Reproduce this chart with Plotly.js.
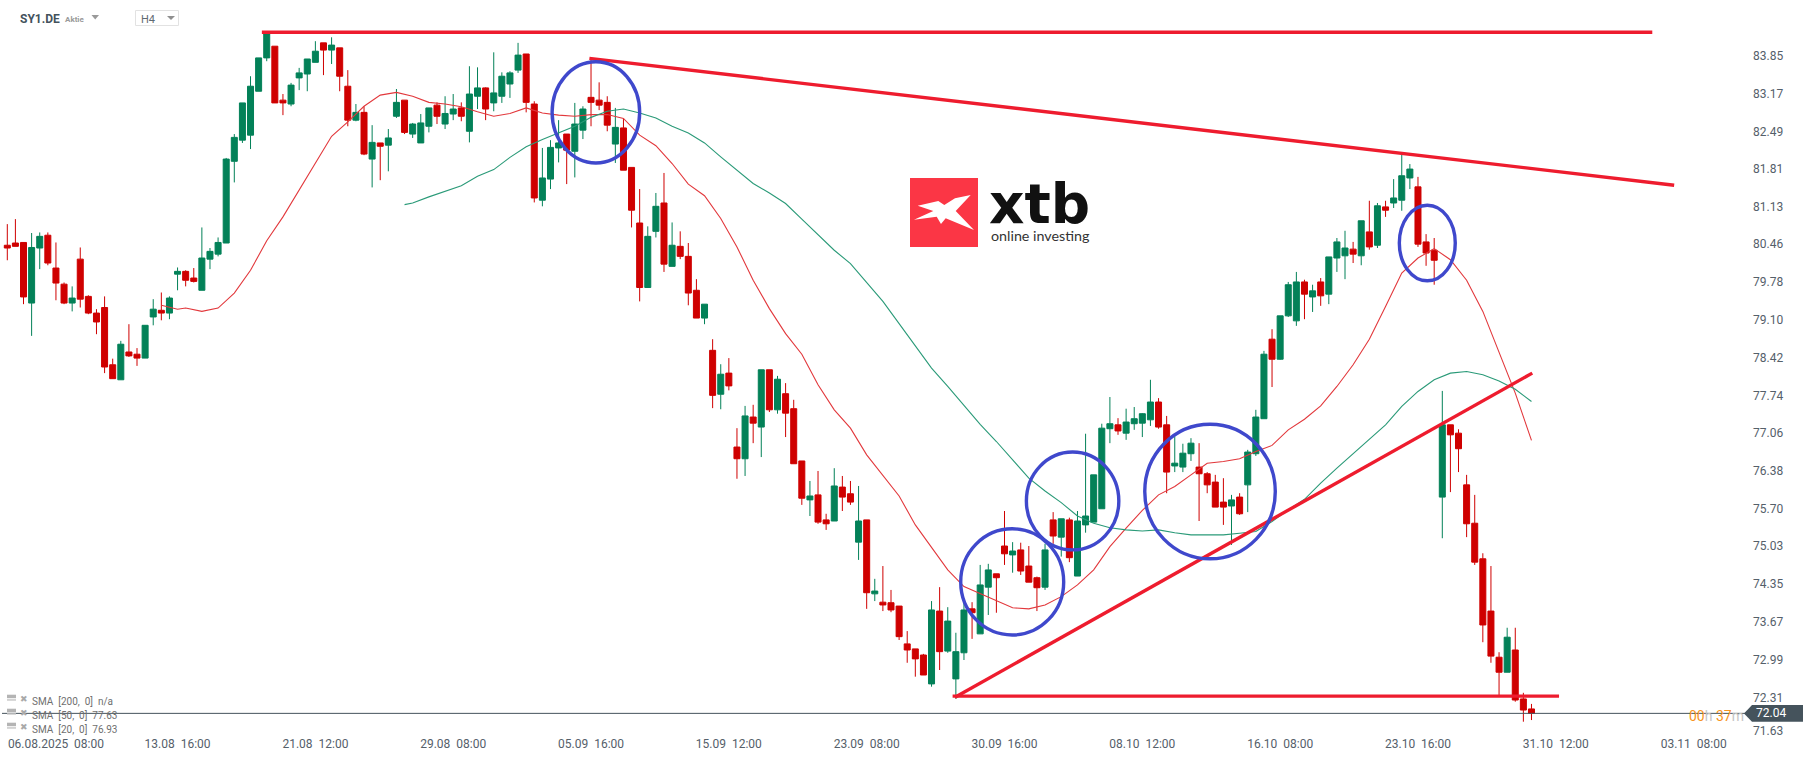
<!DOCTYPE html>
<html>
<head>
<meta charset="utf-8">
<script src="https://cdn.plot.ly/plotly-3.0.1.min.js"></script>
<style>
  html, body { margin: 0; padding: 0; background: #fff; }
</style>
</head>
<body>
<div id="chart" style="width:1815px;height:761px"></div>
<script>
// H4 candles
var open_prices = [
  80.46,80.50,80.51,79.42,80.41,80.64,80.05,79.76,79.42,80.21,
  79.54,79.24,79.34,78.31,78.04,78.54,78.50,78.43,79.17,79.29,
  79.24,79.94,79.99,79.87,79.65,80.21,80.30,80.50,81.97,82.35,
  82.44,83.23,83.83,84.04,83.07,83.00,83.47,83.54,83.75,84.10,
  83.97,84.01,83.32,82.71,82.85,82.01,82.30,82.26,82.78,83.07,
  82.46,82.30,82.60,82.98,82.64,82.82,82.93,82.51,83.14,83.29,
  83.02,83.14,83.36,83.61,83.90,83.00,81.27,81.65,82.21,82.46,
  82.15,82.53,83.12,83.07,83.03,82.28,82.57,81.86,80.86,79.70,
  80.71,81.22,80.08,80.44,80.26,79.65,79.15,78.57,77.78,78.16,
  76.83,76.62,77.37,77.19,78.22,77.50,77.79,77.52,76.58,75.88,
  75.97,75.52,75.50,76.11,75.99,75.12,75.52,74.19,74.04,74.03,
  73.97,73.29,73.20,73.09,72.57,73.88,73.16,72.66,73.13,73.92,
  73.47,74.31,74.55,75.05,74.89,74.98,74.69,74.48,74.31,75.52,
  75.21,75.52,74.51,75.43,75.48,75.72,77.16,77.23,77.08,77.25,
  77.26,77.32,77.64,77.23,76.49,76.47,76.71,76.47,76.35,76.20,
  75.84,75.77,75.93,76.15,76.71,77.34,78.77,78.41,79.19,79.10,
  79.80,79.53,79.80,79.58,80.23,80.27,80.39,80.27,80.70,80.46,
  81.15,81.22,81.27,81.67,81.51,80.52,80.37,75.93,77.23,77.08,
  76.15,75.46,74.82,73.88,73.05,72.78,73.18,72.30,72.12
];
var high_prices = [
  80.84,80.93,80.51,80.68,80.69,80.69,80.51,79.79,79.72,80.42,
  79.56,79.31,79.54,78.42,78.74,79.04,78.61,79.02,79.49,79.61,
  79.54,80.06,80.01,80.05,80.78,80.41,80.60,82.03,82.46,83.02,
  83.50,83.83,84.29,84.04,83.18,83.38,83.65,83.81,84.13,84.10,
  84.20,84.01,83.61,83.00,82.96,82.62,82.30,82.55,83.27,83.07,
  82.66,82.82,82.93,83.03,83.14,83.18,83.03,83.68,83.66,83.30,
  83.93,83.57,83.59,84.10,83.90,83.05,82.21,82.35,82.71,82.46,
  83.02,82.96,83.81,83.39,83.14,82.93,82.73,81.86,81.47,80.80,
  81.40,81.76,80.87,80.71,80.50,79.85,79.40,78.77,78.32,78.43,
  77.17,77.57,77.59,78.22,78.22,78.11,77.98,77.68,76.58,76.22,
  76.40,75.63,76.45,76.31,76.22,76.13,75.52,74.46,74.69,74.26,
  73.97,73.52,73.20,73.11,74.06,74.31,73.95,73.49,74.06,74.04,
  74.71,74.73,74.55,75.68,75.12,75.11,75.05,74.50,75.09,75.66,
  75.54,75.56,75.68,77.07,76.33,77.25,77.73,77.35,77.52,77.55,
  77.44,78.04,77.71,77.39,77.03,76.89,76.99,76.90,76.38,76.33,
  76.27,75.97,76.00,76.78,77.50,78.56,78.95,79.19,79.80,79.98,
  79.84,79.75,79.87,80.25,80.59,80.72,80.52,80.90,81.26,81.22,
  81.26,81.65,82.10,81.92,81.69,80.66,80.59,77.84,77.23,77.15,
  76.33,75.97,74.92,74.69,73.14,73.58,73.58,72.41,72.21
];
var low_prices = [
  80.19,80.44,79.40,78.83,80.03,80.10,79.47,79.40,79.27,79.34,
  79.22,78.86,78.16,78.06,78.04,78.45,78.29,78.43,79.02,79.11,
  79.13,79.65,79.72,79.79,79.65,80.03,80.26,80.50,81.59,82.30,
  82.19,83.23,83.77,83.02,82.80,82.96,83.25,83.23,83.75,83.52,
  83.72,83.23,82.60,82.69,82.08,81.50,81.63,81.79,82.75,82.46,
  82.39,82.30,82.49,82.64,82.55,82.71,82.69,82.31,82.91,82.71,
  82.87,83.02,83.11,83.56,82.85,81.23,81.16,81.47,81.95,81.56,
  81.68,82.37,82.60,82.89,82.51,81.94,81.81,80.78,79.45,79.70,
  80.60,79.98,80.08,80.21,79.38,79.15,79.04,77.53,77.51,77.85,
  76.26,76.31,76.90,76.65,77.46,77.43,77.01,76.53,75.79,75.59,
  75.45,75.34,75.50,75.68,75.79,74.80,73.92,74.06,73.88,73.86,
  73.36,72.95,72.70,72.73,72.52,72.82,73.13,72.30,73.00,73.38,
  73.47,73.81,73.85,74.71,74.57,74.53,74.40,73.88,74.26,75.09,
  74.86,74.76,74.51,75.29,75.48,75.72,76.90,77.05,76.96,77.14,
  77.01,77.21,77.16,76.00,76.38,76.38,76.58,75.50,76.00,75.75,
  75.43,75.07,75.61,75.66,76.67,77.34,77.91,78.40,79.17,79.01,
  79.13,79.26,79.37,79.40,79.98,79.85,80.14,80.10,80.38,80.41,
  80.97,81.13,81.08,81.47,80.43,80.09,79.75,75.19,76.02,76.38,
  75.21,74.71,73.32,72.95,72.35,72.78,72.25,71.89,71.92
];
var close_prices = [
  80.41,80.44,79.53,80.42,80.62,80.14,79.78,79.42,79.51,79.49,
  79.24,79.08,78.27,78.06,78.68,78.47,78.43,79.02,79.31,79.24,
  79.51,79.99,79.83,79.81,80.23,80.35,80.51,82.01,82.40,83.02,
  83.32,83.83,84.27,83.02,83.02,83.34,83.56,83.81,83.95,83.97,
  84.06,83.50,82.71,82.85,82.10,82.31,82.24,82.39,83.03,82.49,
  82.64,82.66,82.93,82.78,82.83,82.91,82.78,83.18,83.29,82.91,
  83.20,83.50,83.56,83.88,83.03,81.31,81.67,82.22,82.30,82.17,
  82.64,82.91,83.03,82.98,82.62,82.58,81.81,81.09,79.70,80.62,
  81.16,80.12,80.46,80.26,79.60,79.15,79.40,77.76,78.14,77.93,
  76.62,77.39,77.26,78.22,77.50,78.05,77.44,76.53,75.91,75.95,
  75.48,75.45,76.13,75.93,75.84,75.50,74.21,74.24,73.99,73.90,
  73.42,73.18,73.02,72.73,73.90,73.15,73.70,73.15,73.90,73.85,
  74.35,74.62,74.48,74.91,74.96,74.60,74.40,74.30,74.98,75.23,
  75.54,74.84,75.50,75.59,76.33,77.17,77.25,77.12,77.28,77.34,
  77.43,77.64,77.19,76.38,76.54,76.72,76.90,76.35,76.15,75.75,
  75.75,75.88,75.63,76.74,77.37,78.50,78.41,79.19,79.75,79.80,
  79.58,79.64,79.55,80.25,80.52,80.41,80.30,80.90,80.43,81.17,
  81.09,81.31,81.71,81.83,80.48,80.32,80.19,77.23,77.05,76.80,
  75.45,74.76,73.63,73.07,72.78,73.41,72.28,72.10,72.04
];

// moving averages, bar number and value
var sma20_bars = [19,21,22,24,26,28,30,32,34,36,38,40,42,44,46,48,50,52,54,56,58,60,62,64,66,68,70,72,74,76,78,80,82,84,86,88,90,92,94,96,98,100,102,104,106,108,110,112,114,116,118,120,122,124,126,128,130,132,134,136,138,140,142,144,146,148,150,152,154,156,158,160,162,164,166,168,170,172,174,176,178,180,182,184,186,188];
var sma20_values = [79.38,79.31,79.33,79.27,79.33,79.60,80.01,80.54,80.97,81.45,81.93,82.42,82.68,82.96,83.16,83.21,83.14,83.03,83.00,82.95,82.86,82.78,82.83,82.93,82.84,82.80,82.78,82.81,82.81,82.74,82.44,82.25,81.93,81.56,81.35,80.94,80.43,79.83,79.32,78.87,78.50,77.95,77.50,77.17,76.69,76.31,75.95,75.43,75.03,74.62,74.32,74.19,74.07,73.94,73.92,73.99,74.14,74.35,74.62,75.04,75.37,75.69,75.97,76.12,76.33,76.54,76.57,76.62,76.75,76.86,77.14,77.33,77.57,77.92,78.31,78.77,79.36,79.96,80.23,80.40,80.20,79.83,79.27,78.52,77.80,76.95];
var sma50_bars = [49,50,52,54,56,58,60,62,64,66,68,70,72,74,76,78,80,82,84,86,88,90,92,94,96,98,100,102,104,106,108,110,112,114,116,118,120,122,124,126,128,130,132,134,136,138,140,142,144,146,148,150,152,154,156,158,160,162,164,166,168,170,172,174,176,178,180,182,184,186,188];
var sma50_values = [81.19,81.22,81.33,81.43,81.53,81.70,81.82,82.04,82.23,82.36,82.48,82.60,82.76,82.87,82.91,82.84,82.75,82.60,82.48,82.30,82.05,81.81,81.57,81.40,81.21,80.93,80.65,80.37,80.13,79.80,79.45,79.05,78.64,78.25,77.92,77.57,77.24,76.93,76.60,76.27,76.04,75.83,75.59,75.46,75.38,75.34,75.32,75.34,75.29,75.25,75.25,75.25,75.28,75.31,75.49,75.70,75.89,76.18,76.45,76.71,76.97,77.23,77.56,77.83,78.04,78.16,78.19,78.13,78.02,77.87,77.65];

// axis labels
var price_ticks = [83.85,83.17,82.49,81.81,81.13,80.46,79.78,79.10,78.42,77.74,77.06,76.38,75.70,75.03,74.35,73.67,72.99,72.31,71.71];
var price_labels = ['83.85','83.17','82.49','81.81','81.13','80.46','79.78','79.10','78.42','77.74','77.06','76.38','75.70','75.03','74.35','73.67','72.99','72.31','71.63'];
var time_ticks = [6,21,38,55,72,89,106,123,140,157,174,191,208];
var time_labels = ['06.08.2025','13.08','21.08','29.08','05.09','15.09','23.09','30.09','08.10','16.10','23.10','31.10','03.11'];
var time_hours = ['08:00','16:00','12:00','08:00','16:00','12:00','08:00','16:00','12:00','08:00','16:00','12:00','08:00'];
var last_price = 72.04;

// drawn analysis on the chart: [bar0, price0, bar1, price1]
var trend_lines = [
  [31.4, 84.29, 202.9, 84.29],
  [71.8, 83.82, 205.6, 81.54],
  [116.9, 72.33, 188.1, 78.16],
  [116.6, 72.35, 191.4, 72.35]
];
var circles = [
  [67.2, 83.76, 78.0, 81.94],
  [117.6, 75.36, 130.3, 73.45],
  [125.7, 76.74, 137.1, 74.98],
  [140.3, 77.24, 156.4, 74.82],
  [171.7, 81.18, 178.6, 79.82]
];
var sma_legend = ['SMA\u00a0 [200,\u00a0 0]\u00a0 n/a', 'SMA\u00a0 [50,\u00a0 0]\u00a0 77.63', 'SMA\u00a0 [20,\u00a0 0]\u00a0 76.93'];

var W = 1752, H = 733;   // plot area in px
function px(x) { return x / W; }
function py(y) { return 1 - y / H; }

var shapes = [];
var annotations = [];

function note(x, y, text, size, color, family, anchor) {
  annotations.push({
    xref: 'paper', yref: 'paper', x: px(x), y: py(y), text: text, showarrow: false,
    xanchor: anchor || 'left', yanchor: 'middle', borderpad: 0,
    font: { size: size, color: color, family: family || 'Roboto' }
  });
}
function poly(points, color) {
  var path = points.map(function(p, i) {
    return (i === 0 ? 'M' : 'L') + px(p[0]).toFixed(5) + ',' + py(p[1]).toFixed(5);
  }).join(' ') + ' Z';
  shapes.push({ type: 'path', xref: 'paper', yref: 'paper', path: path, fillcolor: color, line: { width: 0 } });
}

trend_lines.forEach(function(t) {
  shapes.push({ type: 'line', xref: 'x', yref: 'y', x0: t[0], y0: t[1], x1: t[2], y1: t[3],
    line: { color: '#ee1c2e', width: 3.4 } });
});
circles.forEach(function(c) {
  shapes.push({ type: 'circle', xref: 'x', yref: 'y', x0: c[0], y0: c[1], x1: c[2], y1: c[3],
    line: { color: '#3f48cc', width: 3.4 } });
});

// last price line and tag
shapes.push({ type: 'line', xref: 'paper', yref: 'y', x0: px(2), x1: px(1746), y0: last_price, y1: last_price,
  line: { color: '#45535c', width: 1 } });
poly([[1744, 713.4], [1752, 705], [1803, 705], [1803, 721.7], [1752, 721.7]], '#45535c');
note(1755, 713.4, '72.04', 12, '#ffffff');
note(1688, 716, '<span style="color:#f7941d">00</span><span style="color:#c4c4c4">h</span> <span style="color:#f7941d">37</span><span style="color:#c4c4c4">m</span>', 14, '#f7941d');

// header
note(19, 18.7, '<b>SY1.DE</b>', 12, '#44525c');
note(64, 19, '<b>Aktie</b>', 8, '#9a9a9a');
poly([[91.5, 15], [99, 15], [95.2, 19.5]], '#9a9a9a');
shapes.push({ type: 'rect', xref: 'paper', yref: 'paper', x0: px(135.5), x1: px(178.5), y0: py(10.5), y1: py(25.5),
  line: { color: '#e2e2e2', width: 1 }, fillcolor: '#ffffff' });
note(140, 19.3, 'H4', 11, '#5f6a72');
poly([[167, 16], [175, 16], [171, 20]], '#8f8f8f');

// sma legend, bottom left
sma_legend.forEach(function(txt, k) {
  var y = 701.7 + k * 14;
  poly([[7, y - 7], [16, y - 7], [16, y - 3.5], [7, y - 3.5]], '#b4b4b4');
  poly([[7, y - 2.5], [16, y - 2.5], [16, y - 1], [7, y - 1]], '#c8c8c8');
  note(19, y - 3, '\u2716', 9, '#a9a9a9', 'DejaVu Sans');
  note(31, y, txt, 10, '#6f6f6f');
});

// xtb logo
shapes.push({ type: 'rect', xref: 'paper', yref: 'paper', x0: px(910), x1: px(978), y0: py(178), y1: py(247),
  fillcolor: '#fb3645', line: { width: 0 } });
poly([[970.7, 195], [955, 198.3], [944.3, 205], [938.3, 201], [917.7, 205.7], [933.3, 211], [914, 219.7], [936.7, 216.7], [941, 224], [945.7, 218.3], [974, 230], [955.7, 211]], '#ffffff');
note(988, 204, '<b>xtb</b>', 55, '#111111', 'DejaVu Sans');
note(990, 235.5, 'online investing', 14.3, '#333333', 'Lato');

var bars = open_prices.map(function(v, i) { return i; });

var candles = {
  type: 'candlestick',
  x: bars,
  open: open_prices,
  high: high_prices,
  low: low_prices,
  close: close_prices,
  whiskerwidth: 0,
  increasing: { line: { color: '#038158', width: 1 }, fillcolor: '#038158' },
  decreasing: { line: { color: '#cf0000', width: 1 }, fillcolor: '#cf0000' },
  showlegend: false,
  hoverinfo: 'skip'
};
var sma20 = {
  type: 'scatter', mode: 'lines', x: sma20_bars, y: sma20_values,
  line: { color: '#e2383c', width: 1.1 }, showlegend: false, hoverinfo: 'skip'
};
var sma50 = {
  type: 'scatter', mode: 'lines', x: sma50_bars, y: sma50_values,
  line: { color: '#2a9a78', width: 1.1 }, showlegend: false, hoverinfo: 'skip'
};

var layout = {
  width: 1815,
  height: 761,
  margin: { l: 0, r: 63, t: 0, b: 28, pad: 0 },
  paper_bgcolor: '#ffffff',
  plot_bgcolor: '#ffffff',
  showlegend: false,
  boxgap: 0.26,
  boxgroupgap: 0,
  hovermode: false,
  font: { family: 'Roboto', size: 12, color: '#55606a' },
  xaxis: {
    type: 'linear',
    range: [-0.9, 215.2],
    rangeslider: { visible: false },
    showgrid: false, zeroline: false, showline: false, ticks: '',
    tickmode: 'array',
    tickvals: time_ticks,
    ticktext: time_labels.map(function(d, i) { return d + '\u00a0\u00a0' + time_hours[i]; }),
    tickangle: 0,
    ticklabelstandoff: 2,
    tickfont: { size: 12, color: '#55606a', family: 'Roboto' }
  },
  yaxis: {
    side: 'right',
    range: [71.687, 84.871],
    showgrid: false, zeroline: false, showline: false, ticks: '',
    tickmode: 'array',
    tickvals: price_ticks,
    ticktext: price_labels,
    ticklabelshift: -1,
    tickfont: { size: 12, color: '#55606a', family: 'Roboto' }
  },
  shapes: shapes,
  annotations: annotations
};

Plotly.newPlot('chart', [candles, sma20, sma50], layout, { displayModeBar: false, staticPlot: true });
</script>
</body>
</html>
